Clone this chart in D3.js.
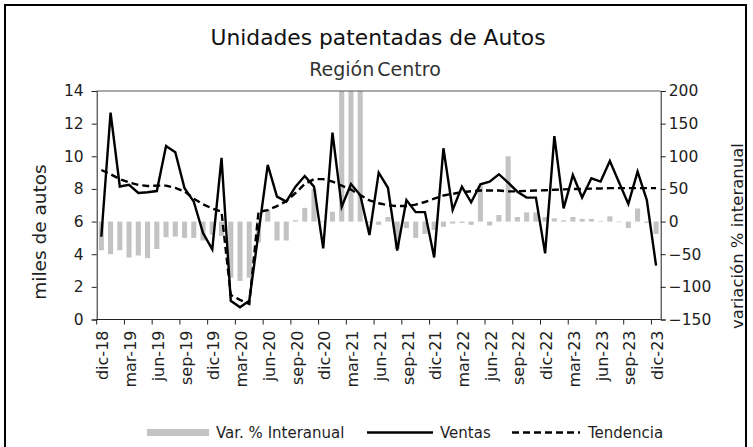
<!DOCTYPE html>
<html>
<head>
<meta charset="utf-8">
<script src="https://cdn.jsdelivr.net/npm/d3@7"></script>
<style>
  html, body { margin: 0; padding: 0; background: #fff; }
  svg { display: block; font-family: "DejaVu Sans", sans-serif; }
</style>
</head>
<body>
<svg id="chart" width="753" height="447"></svg>
<script>
// Months from dic-18 to dic-23
const months = [
  "dic-18","ene-19","feb-19","mar-19","abr-19","may-19","jun-19","jul-19","ago-19","sep-19","oct-19","nov-19",
  "dic-19","ene-20","feb-20","mar-20","abr-20","may-20","jun-20","jul-20","ago-20","sep-20","oct-20","nov-20",
  "dic-20","ene-21","feb-21","mar-21","abr-21","may-21","jun-21","jul-21","ago-21","sep-21","oct-21","nov-21",
  "dic-21","ene-22","feb-22","mar-22","abr-22","may-22","jun-22","jul-22","ago-22","sep-22","oct-22","nov-22",
  "dic-22","ene-23","feb-23","mar-23","abr-23","may-23","jun-23","jul-23","ago-23","sep-23","oct-23","nov-23",
  "dic-23"
];

// Ventas (miles de autos)
const ventas = [
  5.07, 12.67, 8.15, 8.25, 7.75, 7.80, 7.87, 10.63, 10.25, 8.04, 7.22, 5.30,
  4.30, 9.90, 1.15, 0.75, 1.15, 5.30, 9.47, 7.53, 7.22, 8.14, 8.79, 8.14,
  4.36, 11.45, 6.91, 8.30, 7.63, 5.18, 9.00, 8.07, 4.23, 7.32, 6.58, 6.58,
  3.80, 10.49, 6.71, 8.14, 7.18, 8.28, 8.45, 8.90, 8.38, 7.83, 7.47, 7.47,
  4.05, 11.24, 6.81, 8.85, 7.47, 8.65, 8.45, 9.71, 8.40, 7.08, 9.06, 7.32,
  3.30
];

// Tendencia (miles de autos)
const tendencia = [
  9.16, 8.90, 8.60, 8.40, 8.25, 8.18, 8.20, 8.20, 8.06, 7.85, 7.40, 7.06,
  6.80, 6.60, 1.50, 1.20, 0.95, 6.60, 6.70, 6.95, 7.25, 7.75, 8.30, 8.60,
  8.60, 8.45, 8.20, 7.96, 7.63, 7.30, 7.12, 7.00, 6.95, 6.95, 7.04, 7.20,
  7.40, 7.60, 7.70, 7.80, 7.86, 7.90, 7.90, 7.90, 7.85, 7.85, 7.88, 7.90,
  7.92, 7.95, 7.97, 8.00, 8.00, 8.02, 8.03, 8.05, 8.05, 8.05, 8.05, 8.05,
  8.05
];

// Var. % interanual
const variacion = [
  -44, -50, -44, -55, -52, -56, -42, -24, -23, -25, -25, -29,
  -20, -22, -86, -91, -86, -32, 18, -29, -29, 2, 21, 50,
  1, 15, 512, 964, 575, -2, -5, 7, -42, -10, -25, -19,
  -13, -8, -3, -2, -5, 55, -6, 10, 100, 7, 14, 14,
  7, 5, 2, 7, 4, 4, 1, 8, -1, -10, 20, -2,
  -19
];

const leftTicks = [0, 2, 4, 6, 8, 10, 12, 14];
const rightTicks = [-150, -100, -50, 0, 50, 100, 150, 200];
const tickMonths = months.filter((m, i) => i % 3 === 0);

const svg = d3.select("#chart");
const plot = { left: 96.7, right: 660.7, top: 91, bottom: 319.5 };
const ink = "#1e1e1e";

// outer frame
svg.append("rect")
  .attr("x", 5).attr("y", 5).attr("width", 741).attr("height", 445)
  .attr("fill", "#fff").attr("stroke", "#000").attr("stroke-width", 2);

// titles
svg.append("text").attr("x", 378).attr("y", 45).attr("text-anchor", "middle")
  .attr("font-size", 21.8).attr("fill", "#111").text("Unidades patentadas de Autos");
svg.append("text").attr("x", 375).attr("y", 76).attr("text-anchor", "middle")
  .attr("font-size", 19).attr("fill", "#333").attr("word-spacing", -3).text("Región Centro");

const x = d3.scaleBand().domain(months).range([plot.left, plot.right]).padding(0);
const yL = d3.scaleLinear().domain([0, 14]).range([plot.bottom, plot.top]);
const yR = d3.scaleLinear().domain([-150, 200]).range([plot.bottom, plot.top]);
const cx = m => x(m) + x.bandwidth() / 2;

// clip for bars beyond the axis range
svg.append("clipPath").attr("id", "plotclip").append("rect")
  .attr("x", plot.left).attr("y", plot.top)
  .attr("width", plot.right - plot.left).attr("height", plot.bottom - plot.top);

// bars
const barW = x.bandwidth() * 0.55;
svg.append("g").attr("clip-path", "url(#plotclip)")
  .selectAll("rect").data(months).join("rect")
  .attr("x", m => cx(m) - barW / 2)
  .attr("width", barW)
  .attr("y", (m, i) => Math.min(yR(variacion[i]), yR(0)))
  .attr("height", (m, i) => Math.abs(yR(variacion[i]) - yR(0)))
  .attr("fill", "#c3c3c3");

// tendencia (dashed)
const line = d3.line().x(d => cx(d.m)).y(d => yL(d.v));
svg.append("path")
  .datum(months.map((m, i) => ({ m, v: tendencia[i] })))
  .attr("d", line).attr("fill", "none").attr("stroke", "#000")
  .attr("stroke-width", 2.4).attr("stroke-dasharray", "7,4");

// ventas (solid)
svg.append("path")
  .datum(months.map((m, i) => ({ m, v: ventas[i] })))
  .attr("d", line).attr("fill", "none").attr("stroke", "#000")
  .attr("stroke-width", 2.4).attr("stroke-linejoin", "miter");

// plot frame top line
svg.append("line").attr("x1", plot.left).attr("x2", plot.right)
  .attr("y1", plot.top).attr("y2", plot.top).attr("stroke", "#555").attr("stroke-width", 1);

// axes
const gl = svg.append("g").attr("transform", `translate(${plot.left},0)`)
  .call(d3.axisLeft(yL).tickValues(leftTicks).tickSize(5).tickPadding(8).tickFormat(d3.format("d")));
const gr = svg.append("g").attr("transform", `translate(${plot.right},0)`)
  .call(d3.axisRight(yR).tickValues(rightTicks).tickSize(5).tickPadding(3).tickFormat(d3.format("d")));
[gl, gr].forEach(g => {
  g.selectAll("text").attr("font-size", 15.5).attr("fill", ink).attr("font-family", "DejaVu Sans");
  g.selectAll("line, path").attr("stroke", "#222");
});

// x axis: baseline, boundary ticks, rotated month labels
const gx = svg.append("g").attr("transform", `translate(0,${plot.bottom})`);
gx.append("line").attr("x1", plot.left).attr("x2", plot.right).attr("stroke", "#222");
gx.selectAll("line.tk").data(tickMonths).join("line").attr("class", "tk")
  .attr("x1", m => x(m)).attr("x2", m => x(m)).attr("y1", 0).attr("y2", 5).attr("stroke", "#222");
gx.selectAll("text").data(tickMonths).join("text")
  .attr("transform", m => `translate(${cx(m) + 1.5},11) rotate(-90)`)
  .attr("text-anchor", "end").attr("dy", "0.35em")
  .attr("font-size", 16).attr("fill", ink)
  .text(m => m);

// axis titles
svg.append("text").attr("transform", "translate(46,232) rotate(-90)")
  .attr("text-anchor", "middle").attr("font-size", 18.5).attr("fill", ink).text("miles de autos");
svg.append("text").attr("transform", "translate(743,236) rotate(-90)")
  .attr("text-anchor", "middle").attr("font-size", 16.5).attr("fill", ink).text("variación % interanual");

// legend
const lg = svg.append("g").attr("font-size", 15).attr("fill", ink);
lg.append("rect").attr("x", 147).attr("y", 429).attr("width", 62).attr("height", 7).attr("fill", "#c3c3c3");
lg.append("text").attr("x", 216).attr("y", 438).text("Var. % Interanual");
lg.append("line").attr("x1", 367).attr("x2", 433).attr("y1", 432.5).attr("y2", 432.5)
  .attr("stroke", "#000").attr("stroke-width", 2.4);
lg.append("text").attr("x", 440).attr("y", 438).text("Ventas");
lg.append("line").attr("x1", 512).attr("x2", 580).attr("y1", 432.5).attr("y2", 432.5)
  .attr("stroke", "#000").attr("stroke-width", 2.4).attr("stroke-dasharray", "7,4");
lg.append("text").attr("x", 588).attr("y", 438).text("Tendencia");
</script>
</body>
</html>
